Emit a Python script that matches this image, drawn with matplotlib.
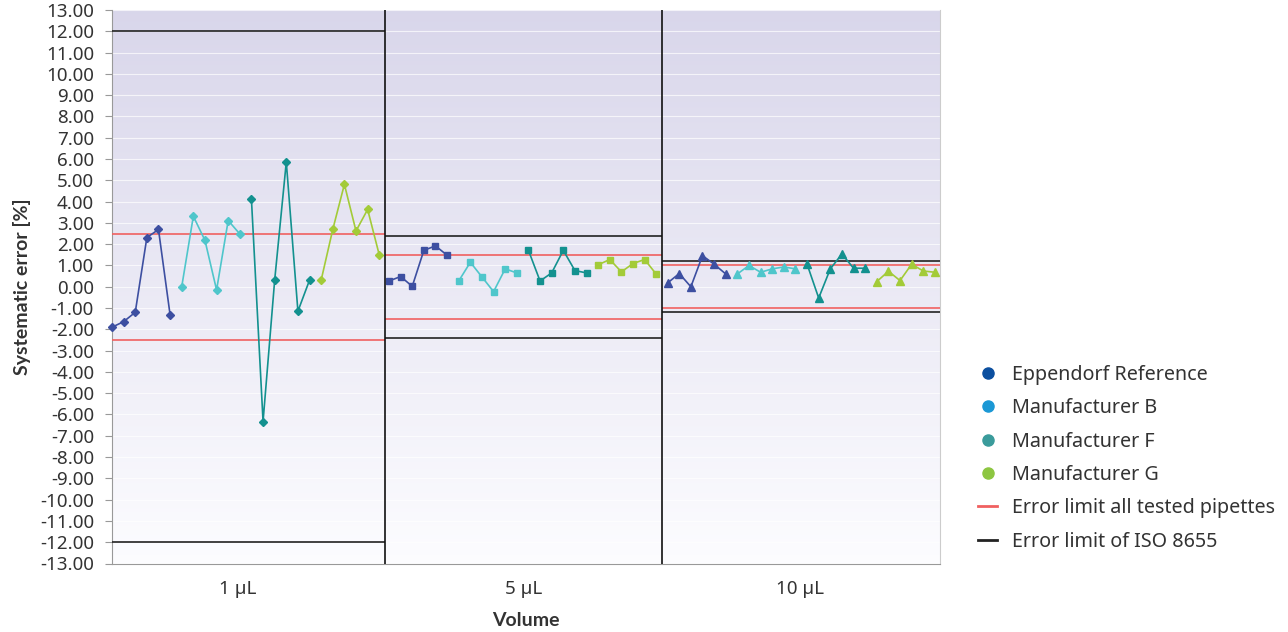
import numpy as np
import matplotlib
matplotlib.use("Agg")
import matplotlib.pyplot as plt
from matplotlib.lines import Line2D

plt.rcParams['font.family'] = ['Noto Sans', 'DejaVu Sans']

volumes = ["1 µL", "5 µL", "10 µL"]
series = ["Eppendorf Reference", "Manufacturer B", "Manufacturer F", "Manufacturer G"]

# systematic error [%] per volume, 6 pipettes each
eppendorf = [[-1.90, -1.64, -1.20, 2.31, 2.69, -1.32],
             [0.27, 0.48, 0.02, 1.71, 1.92, 1.48],
             [0.18, 0.62, 0.00, 1.46, 1.06, 0.60]]
manuf_b = [[0.00, 3.31, 2.18, -0.15, 3.11, 2.48],
           [0.27, 1.15, 0.46, -0.23, 0.84, 0.65],
           [0.60, 1.00, 0.68, 0.84, 0.93, 0.84]]
manuf_f = [[4.11, -6.33, 0.31, 5.86, -1.15, 0.31],
           [1.71, 0.27, 0.65, 1.71, 0.76, 0.65],
           [1.06, -0.53, 0.84, 1.54, 0.87, 0.87]]
manuf_g = [[0.31, 2.69, 4.81, 2.62, 3.63, 1.50],
           [1.03, 1.28, 0.70, 1.09, 1.28, 0.59],
           [0.24, 0.73, 0.29, 1.06, 0.74, 0.68]]

limit_tested = [2.5, 1.5, 1.0]
limit_iso = [12.0, 2.4, 1.2]

line_colors = ["#3d4fa1", "#4fc6cb", "#13918f", "#a3cb38"]
legend_colors = ["#0b4f9f", "#1b98d5", "#3a9b9b", "#8dc641"]
markers = ["D", "s", "^"]
msizes = [4, 5, 6]

# layout in units of point spacing
starts = [0.0, 23.84, 47.82]
bounds = [0.0, 23.5, 47.33, 71.26]
label_x = [10.8, 35.4, 59.2]

fig = plt.figure(figsize=(12.88, 6.32), dpi=100)
ax = fig.add_axes([112/1288, 1-563.5/632, 828/1288, 553.5/632])

# gradient background
grad = np.linspace(0, 1, 256).reshape(-1, 1)
top = np.array([0.85, 0.84, 0.92])
bot = np.array([0.99, 0.99, 1.0])
img = top[None, None, :] * (1 - grad[:, :, None]) + bot[None, None, :] * grad[:, :, None]
ax.imshow(img, extent=[bounds[0], bounds[-1], -13, 13], aspect='auto', zorder=0)

ax.set_xlim(bounds[0], bounds[-1])
ax.set_ylim(-13, 13)
ax.set_yticks(np.arange(-13, 14, 1))
ax.set_yticklabels(["%.2f" % v for v in np.arange(-13, 14, 1)])
ax.yaxis.grid(True, color="white", lw=0.8, alpha=0.7, zorder=1)
ax.set_axisbelow(True)

all_data = [eppendorf, manuf_b, manuf_f, manuf_g]
for p in range(3):
    for s, data in enumerate(all_data):
        xs = starts[p] + 6 * s + np.arange(6)
        ax.plot(xs, data[p], color=line_colors[s], lw=1.2, marker=markers[p],
                ms=msizes[p], zorder=4, clip_on=False)
    ax.hlines([limit_tested[p], -limit_tested[p]], bounds[p], bounds[p + 1],
              color="#f06060", lw=1.2, zorder=3)
    ax.hlines([limit_iso[p], -limit_iso[p]], bounds[p], bounds[p + 1],
              color="#222222", lw=1.2, zorder=3)

for b in bounds[1:3]:
    ax.axvline(b, color="#111111", lw=1.2, zorder=5)

ax.set_xticks(label_x)
ax.set_xticklabels(volumes, fontsize=13.5, color="#333333")
ax.tick_params(axis='x', length=0, pad=12)
ax.tick_params(axis='y', labelsize=13.5, labelcolor="#333333", color="#999999", length=5, pad=8)

ax.spines["top"].set_visible(False)
ax.spines["right"].set_color("#cccccc")
ax.spines["left"].set_color("#999999")
ax.spines["bottom"].set_color("#999999")

ax.set_ylabel("Systematic error [%]", fontsize=14, fontweight="bold", color="#333333",
              labelpad=6, family=["Lato", "DejaVu Sans"])
ax.set_xlabel("Volume", fontsize=14, fontweight="bold", color="#333333",
              labelpad=10, family=["Lato", "DejaVu Sans"])

handles = [Line2D([], [], ls="none", marker="o", ms=8, color=c) for c in legend_colors]
handles += [Line2D([], [], color="#f06060", lw=2), Line2D([], [], color="#222222", lw=2)]
labels = series + ["Error limit all tested pipettes", "Error limit of ISO 8655"]
fig.legend(handles, labels, loc="upper left", bbox_to_anchor=(960/1288, 1-347/632),
           frameon=False, fontsize=14.2, handlelength=1.0, handletextpad=0.75,
           labelspacing=0.68, labelcolor="#333333")

fig.savefig("out.png", dpi=100)
